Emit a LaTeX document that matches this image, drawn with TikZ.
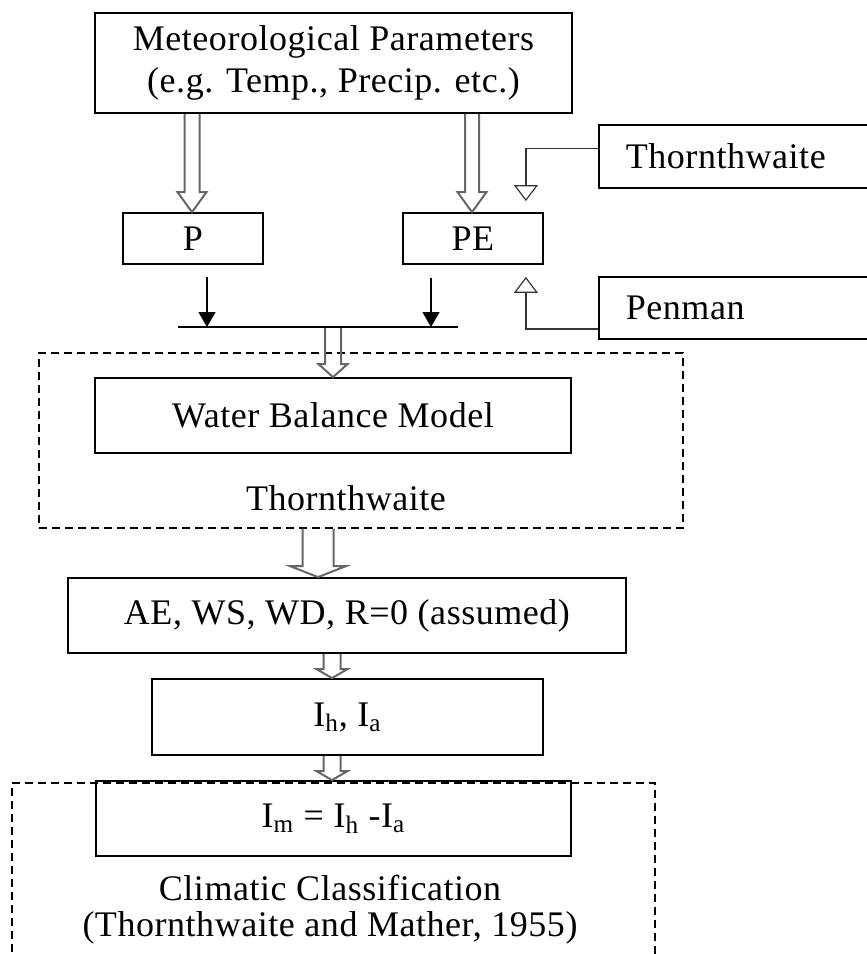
\documentclass[tikz,border=0pt]{standalone}
\usepackage{fontspec}
\setmainfont{Liberation Serif}[LetterSpace=1.5]
\usetikzlibrary{arrows.meta,calc}

\tikzset{
  box/.style={draw, line width=0.9pt, inner sep=0pt, font=\fontsize{18}{21}\selectfont},
  sidebox/.style={box, anchor=west, align=left, text width=124pt, inner xsep=13.5pt},
  frame/.style={draw, dash pattern=on 4pt off 2.5pt, line width=0.7pt, inner sep=0pt},
  txt/.style={font=\fontsize{18}{21}\selectfont},
  hollow/.style={draw=black!60, line width=1pt, line join=miter},
  feed/.style={draw=black!80, line width=0.6pt, -{Triangle[open, width=12pt, length=8pt]}},
  drop/.style={line width=0.7pt, -{Triangle[width=8.5pt, length=7.5pt]}}
}

% block arrow: from, to, x offset, half shaft, half head, head length (px)
\newcommand{\hollowarrow}[6]{%
  \draw[hollow] let \p1=(#1), \p2=($(#2)+(#3,0)$) in
    (\x2-#4*0.5pt,\y1) -- (\x2-#4*0.5pt,\y2+#6*0.5pt) -- (\x2-#5*0.5pt,\y2+#6*0.5pt)
    -- (\x2,\y2) -- (\x2+#5*0.5pt,\y2+#6*0.5pt) -- (\x2+#4*0.5pt,\y2+#6*0.5pt)
    -- (\x2+#4*0.5pt,\y1);}

\begin{document}
\begin{tikzpicture}[x=0.5pt, y=-0.5pt]

\useasboundingbox (0,0) rectangle (867,954);
\clip (0,0) rectangle (867,954);

\node [box, minimum width=238.5pt, minimum height=50pt, align=center] (met) at (333.5,63)
  {Meteorological Parameters\\(e.g. Temp., Precip. etc.)};

\node [box, minimum width=70pt, minimum height=25.5pt] (P) at (193,238.5) {P};
\node [box, minimum width=70pt, minimum height=25.5pt] (PE) at (473,238.5) {PE};

\node [sidebox, minimum height=31.5pt] (thw) at (598,156.5) {Thornthwaite};
\node [sidebox, minimum height=31pt] (pen) at (598,308) {Penman};

\coordinate (jl) at (178,327);
\coordinate (jr) at (458,327);
\coordinate (pdrop) at ($(P.south)+(14,12)$);
\coordinate (edrop) at ($(PE.south)+(-42,13)$);

\node [frame, minimum width=322pt, minimum height=87.5pt] (frame1) at (361,440.5) {};
\node [box, minimum width=238pt, minimum height=37.5pt] (wbm) at (333,415.5) {Water Balance Model};
\node [txt] (thwlab) at (346,498) {Thornthwaite};

\node [box, minimum width=279pt, minimum height=37.5pt] (ae) at (347,615.5) {AE, WS, WD, R=0 (assumed)};
\node [box, minimum width=195.5pt, minimum height=38pt] (ih) at (347.5,717)
  {I\textsubscript{h}, I\textsubscript{a}};

\node [frame, minimum width=321.5pt, minimum height=108.5pt] (frame2) at (333.5,891.5) {};
\node [box, minimum width=237.5pt, minimum height=37.5pt] (im) at (333.5,818.5)
  {I\textsubscript{m} = I\textsubscript{h} -I\textsubscript{a}};
\node [txt, align=center, font=\fontsize{18}{18}\selectfont] (climlab) at (330,910)
  {Climatic Classification\\(Thornthwaite and Mather, 1955)};

% block arrows
\hollowarrow{met.south}{P.north}{-1}{7.5}{14.5}{20}
\hollowarrow{met.south}{PE.north}{-1}{7}{14.5}{20}
\hollowarrow{jl}{wbm.north}{0}{8}{14.5}{13}
\hollowarrow{frame1.south}{ae.north}{-29}{15.5}{28}{11}
\hollowarrow{ae.south}{ih.north}{-15.5}{8.5}{15.5}{9}
\hollowarrow{ih.south}{im.north}{-1.5}{8.5}{15.5}{9}

% P and PE join
\draw [line width=0.8pt] (jl) -- (jr);
\draw [drop] (pdrop) -- (pdrop |- jl);
\draw [drop] (edrop) -- (edrop |- jl);

% methods for PE
\draw [feed] ($(thw.west)+(0,-8)$) -| ($(PE.north east)+(-18,-11)$);
\draw [feed] ($(pen.west)+(0,21)$) -| ($(PE.south east)+(-18,12)$);

\end{tikzpicture}
\end{document}
